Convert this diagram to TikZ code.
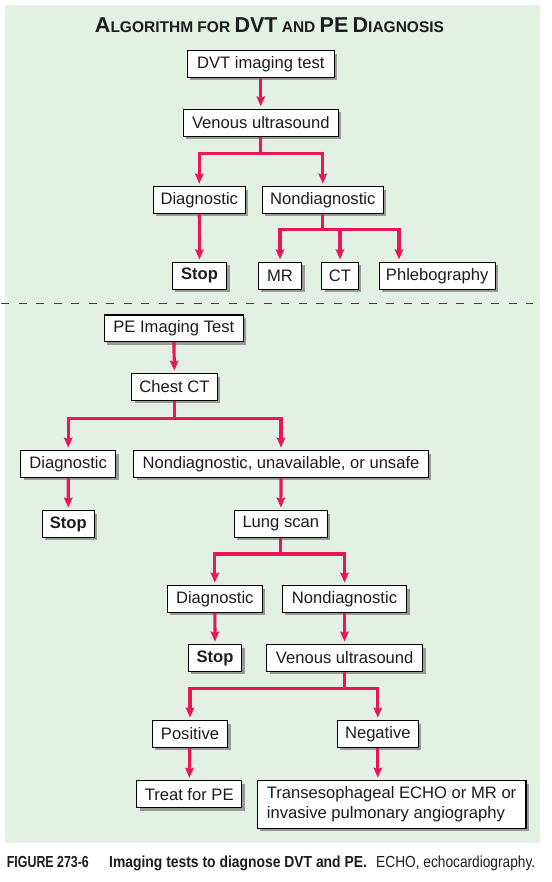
\documentclass[tikz,border=0pt]{standalone}
\usepackage{fontspec}
\setmainfont{Liberation Sans}
\usetikzlibrary{arrows.meta,shadows}
\definecolor{panel}{RGB}{227,240,228}
\definecolor{arrowred}{RGB}{233,23,88}
\definecolor{ink}{RGB}{30,27,28}
\newcommand\tbig[1]{{\fontsize{21.5pt}{24pt}\selectfont #1}}
\newcommand\tsml[1]{{\fontsize{15.5pt}{18pt}\selectfont #1}}
\tikzset{
  box/.style={draw=black, line width=1.1pt, fill=white, text=ink,
    font=\fontsize{16.6pt}{20pt}\selectfont, minimum height=26.7pt, inner sep=0pt,
    drop shadow={shadow xshift=3pt, shadow yshift=-3pt, fill=black!40, opacity=1}},
  arr/.style={draw=arrowred, line width=3.2pt,
    -{Stealth[length=10pt,width=8.5pt,inset=1.5pt]}, shorten >=2.5pt},
}
\begin{document}
\begin{tikzpicture}[x=1pt,y=-1pt]
\useasboundingbox (0,0) rectangle (551,882);
\fill[panel] (5,5) rectangle (540,843.3);

% title
\node[anchor=base, text=ink, font=\bfseries, inner sep=0pt] (title) at (269.5,33)
  {\tbig{A}\tsml{LGORITHM FOR }\tbig{DVT}\tsml{ AND }\tbig{PE}\tsml{ }\tbig{D}\tsml{IAGNOSIS}};

% DVT part
\node[box, minimum width=147pt] (dvt) at (260.8,64) {DVT imaging test};
\node[box, minimum width=155pt] (vus1) at (260.8,122.8) {Venous ultrasound};
\node[box, minimum width=92pt] (diag1) at (199.3,200) {Diagnostic};
\node[box, minimum width=121pt] (nond1) at (322.8,200) {Nondiagnostic};
\node[box, minimum width=54.4pt, font=\fontsize{16.6pt}{20pt}\selectfont\bfseries] (stop1) at (199.5,275.8) {Stop};
\node[box, minimum width=43.4pt] (mr) at (280,275.8) {MR};
\node[box, minimum width=36.6pt] (ct) at (340,275.8) {CT};
\node[box, minimum width=115.7pt] (phleb) at (437.2,275.8) {Phlebography};

\draw[arr] (dvt) -- (vus1);
\draw[arr] (vus1.south) -- ++(0,17) -| (diag1.north);
\draw[arr] (vus1.south) -- ++(0,17) -| (nond1.north);
\draw[arr] (diag1) -- (stop1);
\draw[arr] (nond1.south) -- ++(0,15.7) coordinate (j1) -| (mr.north);
\draw[arr] (j1) -| (ct.north);
\draw[arr] (j1) -| ([xshift=-38.2pt]phleb.north);

% separator
\draw[ink!85, line width=1pt, dash pattern=on 8pt off 9.5pt] (1,303.5) -- (533,303.5);

% PE part
\node[box, minimum width=139pt] (pe) at (173.8,328.3) {PE Imaging Test};
\node[box, minimum width=85.6pt] (chest) at (174.5,387) {Chest CT};
\node[box, minimum width=95pt] (diag2) at (68.2,464) {Diagnostic};
\node[box, minimum width=294.6pt] (nond2) at (281,464) {Nondiagnostic, unavailable, or unsafe};
\node[box, minimum width=52pt, font=\fontsize{16.6pt}{20pt}\selectfont\bfseries] (stop2) at (68.3,524) {Stop};
\node[box, minimum width=93pt] (lung) at (280.8,524) {Lung scan};
\node[box, minimum width=95pt] (diag3) at (214.8,599) {Diagnostic};
\node[box, minimum width=124.4pt] (nond3) at (344.5,599) {Nondiagnostic};
\node[box, minimum width=53.4pt, font=\fontsize{16.6pt}{20pt}\selectfont\bfseries] (stop3) at (215,658) {Stop};
\node[box, minimum width=156pt] (vus2) at (344.7,658) {Venous ultrasound};
\node[box, minimum width=75.4pt] (pos) at (190,734) {Positive};
\node[box, minimum width=81pt] (neg) at (377.8,734) {Negative};
\node[box, minimum width=105pt] (treat) at (189.2,794.2) {Treat for PE};
\node[box, minimum width=268.7pt, minimum height=47.6pt, align=left, inner xsep=9.4pt] (trans) at (391.6,804.5)
  {Transesophageal ECHO or MR or\\invasive pulmonary angiography};

\draw[arr] (pe) -- (chest);
\draw[arr] (chest.south) -- ++(0,17.3) -| (diag2.north);
\draw[arr] (chest.south) -- ++(0,17.3) -| (nond2.north);
\draw[arr] (diag2) -- (stop2);
\draw[arr] (nond2) -- (lung);
\draw[arr] (lung.south) -- ++(0,16) -| (diag3.north);
\draw[arr] (lung.south) -- ++(0,16) -| (nond3.north);
\draw[arr] (diag3) -- (stop3);
\draw[arr] (nond3.south) -- (vus2.north -| nond3.south);
\draw[arr] (vus2.south) -- ++(0,16.6) -| (pos.north);
\draw[arr] (vus2.south) -- ++(0,16.6) -| (neg.north);
\draw[arr] (pos) -- (treat);
\draw[arr] (neg.south) -- (trans.north -| neg.south);

% caption
\node[anchor=base west, inner sep=0pt, text=ink, font=\fontsize{16pt}{19pt}\selectfont\bfseries] (capA) at (6.7,867.3)
  {\scalebox{0.775}[1]{FIGURE 273-6}};
\node[anchor=base west, inner sep=0pt, text=ink, font=\fontsize{16pt}{19pt}\selectfont\bfseries] (capB) at (109,867.3)
  {\scalebox{0.868}[1]{Imaging tests to diagnose DVT and PE.}};
\node[anchor=base west, inner sep=0pt, text=ink, font=\fontsize{16pt}{19pt}\selectfont] (capC) at (376,867.3)
  {\scalebox{0.857}[1]{ECHO, echocardiography.}};
\end{tikzpicture}
\end{document}
